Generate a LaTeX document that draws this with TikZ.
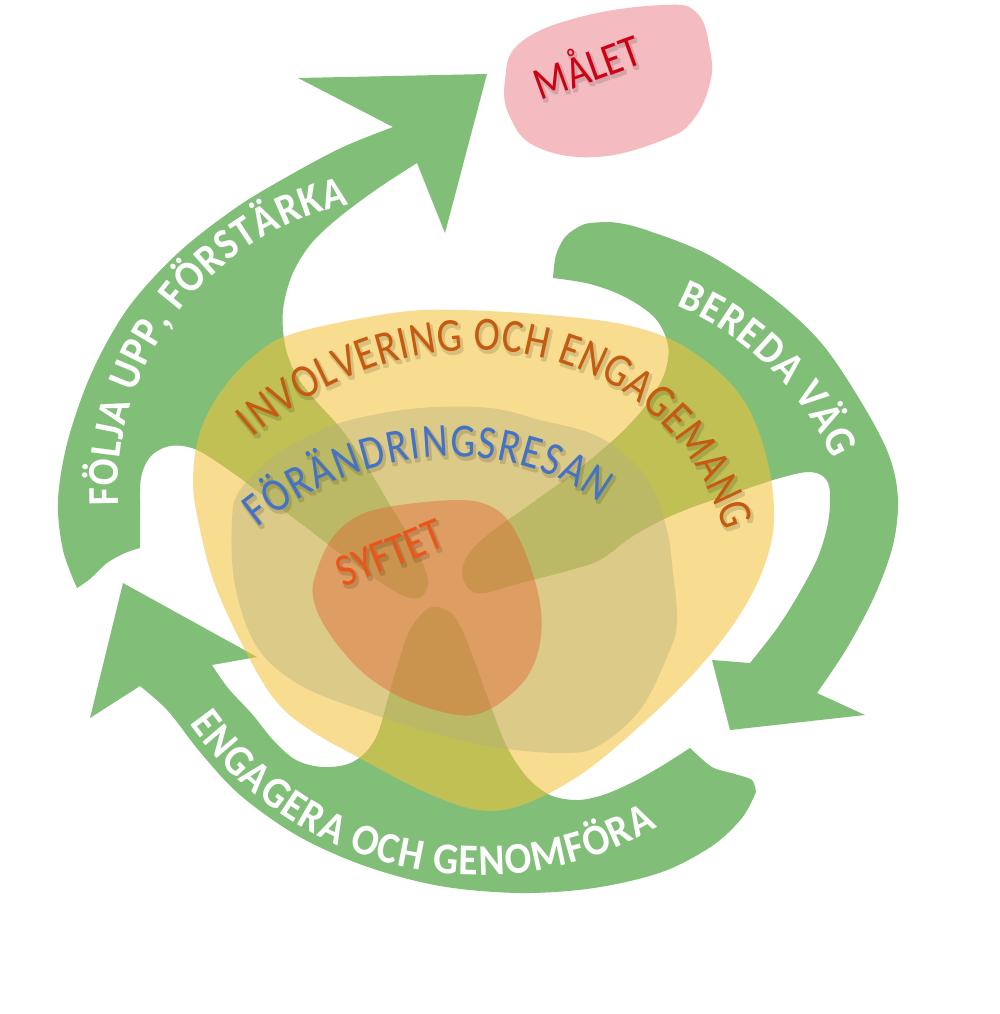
\documentclass[tikz,border=0pt]{standalone}
\usepackage{fontspec}
\setmainfont{Carlito}
\newfontfamily\labelfont[FakeStretch=0.9]{Carlito}
\newfontfamily\centerfont[FakeStretch=0.83]{Carlito}
\newfontfamily\nodefont[FakeStretch=0.85]{Carlito}
\usetikzlibrary{decorations.text}
\definecolor{arrowgreen}{RGB}{129,191,121}
\definecolor{blobyellow}{RGB}{243,193,57}
\definecolor{blobgray}{RGB}{180,176,126}
\definecolor{bloborange}{RGB}{225,90,45}
\definecolor{blobpink}{RGB}{244,188,192}
\definecolor{malred}{RGB}{205,0,20}
\definecolor{invbrown}{RGB}{197,90,17}
\definecolor{resblue}{RGB}{68,114,196}
\definecolor{syfred}{RGB}{235,85,25}
\tikzset{
  greenlabel/.style={decorate, decoration={text along path, text align={fit to path},
      text={|\labelfont\fontsize{12.5}{15}\selectfont\bfseries\color{white}|#1}}},
  arclabel/.style n args={3}{decorate, decoration={text along path, text align={fit to path},
      text={|\centerfont\fontsize{#2}{16}\selectfont\color{#1}|#3}}},
  rotlabel/.style={inner sep=0, font=\nodefont\fontsize{13}{16}\selectfont},
}
\newcommand\invcurve{plot[domain=0:1, samples=70, variable=\t] ({(1-\t)^3*253 + 3*(1-\t)^2*\t*423 + 3*(1-\t)*\t^2*665 + \t^3*725}, {(1-\t)^3*437 + 3*(1-\t)^2*\t*292 + 3*(1-\t)*\t^2*332 + \t^3*532})}
\newcommand\rescurve{plot[domain=0:1, samples=60, variable=\t] ({(1-\t)^3*258 + 3*(1-\t)^2*\t*368 + 3*(1-\t)*\t^2*510 + \t^3*600}, {(1-\t)^3*528 + 3*(1-\t)^2*\t*440 + 3*(1-\t)*\t^2*435 + \t^3*503})}
\newcommand\centraltexts[5]{%
  \path[arclabel={#1}{13.5}{INVOLVERING OCH ENGAGEMANG}] \invcurve;
  \path[arclabel={#2}{13.5}{FÖRÄNDRINGSRESAN}] \rescurve;
  \node[rotlabel, rotate=22, text=#3] (syftet#5) at (390,553) {SYFTET};
  \node[rotlabel, rotate=20, text=#4] (malet#5) at (586,64) {MÅLET};
}
\begin{document}
\begin{tikzpicture}[x=0.01cm,y=-0.01cm]
\fill[white] (0,0) rectangle (1000,1014);
\useasboundingbox (0,0) rectangle (1000,1014);

% ---------- green arrows ----------
\fill[arrowgreen] plot[smooth, tension=0.55] coordinates {(417,163) (377,189) (337,219) (310,245) (292,275) (283,310) (285,345) (296,375) (316,401) (342,430) (368,468) (390,505) (410,538) (424,566) (428,585) (419,598) (400,594) (370,575) (338,552) (307,528) (273,503) (240,478) (203,453) (183,446) (166,447) (150,457) (141,478) (140,512) (140,548)}
  -- plot[smooth] coordinates {(140,548) (125,553) (107,563) (90,579) (77,588)}
  -- plot[smooth, tension=0.55] coordinates {(77,588) (63,550) (58,500) (68,440) (92,372) (128,308) (178,253) (237,207) (292,174) (343,147) (393,127)}
  -- (298,78) -- (487,74) -- (445,233) -- cycle;

\fill[arrowgreen] plot[smooth, tension=0.55] coordinates {(553,278) (590,284) (625,297) (655,318) (668,345) (665,372) (650,400) (622,432) (580,468) (532,503) (490,533) (468,555) (462,574) (470,590) (485,593) (517,584) (567,571) (600,560) (630,538) (660,521) (693,507) (743,490) (780,478) (808,472) (824,477) (830,492) (828,523) (818,557) (801,590) (778,627) (750,663)}
  -- (712,660) -- (730,730) -- (865,715) -- (817,693)
  -- plot[smooth, tension=0.55] coordinates {(817,693) (847,648) (875,595) (893,545) (898,500) (890,458) (866,410) (823,345) (773,298) (707,254) (640,228) (610,222)}
  -- plot[smooth] coordinates {(610,222) (585,224) (566,236) (556,255) (553,278)} -- cycle;

\fill[arrowgreen] (123,583) -- (257,657) -- (212,665)
  -- plot[smooth, tension=0.55] coordinates {(212,665) (228,688) (252,714) (274,741) (296,760) (322,767) (348,764) (366,752) (378,733) (387,702) (397,667) (410,630) (429,608) (450,612) (463,632) (474,660) (490,704) (507,747) (527,777) (550,795) (577,800) (603,795) (631,783) (660,767) (690,748)}
  -- plot[smooth] coordinates {(690,748) (712,767) (735,774) (752,780) (756,792)}
  -- plot[smooth, tension=0.55] coordinates {(756,792) (742,818) (712,846) (662,872) (594,888) (520,893) (440,886) (365,866) (298,836) (240,795) (200,752) (168,711) (140,686)}
  -- (90,718) -- cycle;

% ---------- MALET blob ----------
\fill[blobpink] plot[smooth cycle, tension=0.7] coordinates {(505,80) (520,43) (580,17) (663,5) (697,13) (710,50) (710,83) (693,120) (663,140) (597,157) (537,147) (510,117)};

% ---------- central blobs ----------
\fill[blobyellow, opacity=0.56] plot[smooth cycle, tension=0.6] coordinates {(193,480) (200,432) (222,390) (255,355) (295,333) (393,313) (460,310) (560,316) (635,327) (690,350) (740,395) (766,455) (774,520) (762,572) (735,622) (695,672) (640,726) (580,775) (522,805) (478,810) (425,792) (367,762) (310,730) (275,700) (245,650) (215,585) (199,525)};
\fill[blobgray, opacity=0.4] plot[smooth cycle, tension=0.6] coordinates {(232,520) (240,490) (273,457) (307,437) (350,420) (420,408) (490,408) (540,420) (590,433) (623,453) (650,483) (667,530) (673,573) (677,623) (667,657) (640,710) (600,745) (567,753) (500,748) (433,733) (367,712) (300,685) (257,647) (235,585)};
\fill[bloborange, opacity=0.4] plot[smooth cycle, tension=0.6] coordinates {(313,597) (317,570) (333,537) (360,515) (400,505) (460,500) (490,506) (510,523) (527,557) (540,603) (540,643) (527,677) (500,703) (473,715) (443,712) (400,697) (360,670) (327,630)};

% ---------- texts on green arrows ----------
\path[greenlabel={FÖLJA UPP, FÖRSTÄRKA}] plot[domain=177:258, samples=60, variable=\t] ({410+292*cos(\t)}, {490+292*sin(\t)});
\path[greenlabel={BEREDA VÄG}] plot[domain=293:336, samples=40, variable=\t] ({560+298*cos(\t)}, {580+298*sin(\t)});
\path[greenlabel={ENGAGERA OCH GENOMFÖRA}] plot[domain=0:85, samples=70, variable=\t] ({480+355*cos(145-\t)}, {520+355*sin(145-\t)});

% ---------- central texts with soft shadows ----------
\begin{scope}[transparency group, opacity=0.13]
  \begin{scope}[shift={(1,2)}]\centraltexts{black}{black}{black}{black}{sa}\end{scope}
  \begin{scope}[shift={(3,2)}]\centraltexts{black}{black}{black}{black}{sb}\end{scope}
  \begin{scope}[shift={(1,4)}]\centraltexts{black}{black}{black}{black}{sc}\end{scope}
  \begin{scope}[shift={(3,4)}]\centraltexts{black}{black}{black}{black}{sd}\end{scope}
\end{scope}
\centraltexts{invbrown}{resblue}{syfred}{malred}{}
\end{tikzpicture}
\end{document}
